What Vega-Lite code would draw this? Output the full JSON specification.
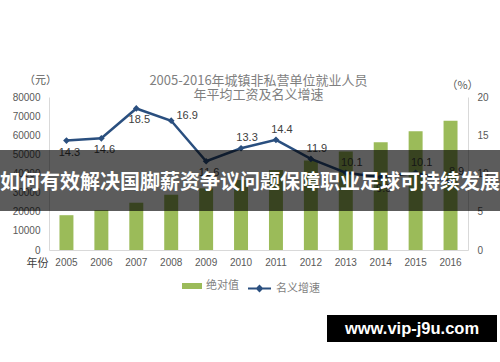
{
  "$schema": "https://vega.github.io/schema/vega-lite/v6.json",
  "width": 419,
  "height": 153,
  "autosize": {"type": "none"},
  "padding": {"left": 49, "top": 97, "right": 32, "bottom": 112},
  "background": "white",
  "config": {
    "view": {"stroke": null},
    "font": "Liberation Sans",
    "axis": {"grid": false, "ticks": false, "domainColor": "#d9d9d9", "labelColor": "#595959", "labelFontSize": 10, "titleFontWeight": "normal", "titleColor": "#595959", "titleFontSize": 11}
  },
  "title": {
    "text": ["2005-2016年城镇非私营单位就业人员", "年平均工资及名义增速"],
    "font": "Noto Sans CJK SC",
    "fontSize": 13,
    "fontWeight": "normal",
    "color": "#7f7f7f",
    "anchor": "middle",
    "lineHeight": 14,
    "offset": -28
  },
  "data": {
    "values": [
      {"year": "2005", "wage": 18200, "growth": 14.3},
      {"year": "2006", "wage": 20856, "growth": 14.6},
      {"year": "2007", "wage": 24721, "growth": 18.5},
      {"year": "2008", "wage": 28898, "growth": 16.9},
      {"year": "2009", "wage": 32244, "growth": 11.6},
      {"year": "2010", "wage": 36539, "growth": 13.3},
      {"year": "2011", "wage": 41799, "growth": 14.4},
      {"year": "2012", "wage": 46769, "growth": 11.9},
      {"year": "2013", "wage": 51483, "growth": 10.1},
      {"year": "2014", "wage": 56360, "growth": 9.5},
      {"year": "2015", "wage": 62029, "growth": 10.1},
      {"year": "2016", "wage": 67569, "growth": 8.9}
    ]
  },
  "encoding": {
    "x": {
      "field": "year", "type": "ordinal",
      "scale": {"paddingInner": 0.6, "paddingOuter": 0.3},
      "axis": {"labelAngle": 0, "labelPadding": 7, "title": "年份", "titleFont": "Noto Sans CJK SC", "titleAngle": 0, "titleX": -12, "titleY": 13, "titleAlign": "center", "titleBaseline": "middle", "titleColor": "#404040"}
    }
  },
  "layer": [
    {
      "mark": {"type": "bar"},
      "encoding": {
        "y": {
          "field": "wage", "type": "quantitative",
          "scale": {"domain": [0, 80000]},
          "axis": {"values": [0, 10000, 20000, 30000, 40000, 50000, 60000, 70000, 80000], "format": "d", "labelPadding": 9, "title": "（元）", "titleFont": "Noto Sans CJK SC", "titleAngle": 0, "titleX": -9, "titleY": -17, "titleAlign": "center", "titleBaseline": "middle"}
        },
        "fill": {
          "datum": "绝对值",
          "scale": {"range": ["#9bbb59"]},
          "legend": {"title": null, "orient": "none", "legendX": 133, "legendY": 179, "symbolType": "M-1,-0.3H1V0.3H-1Z", "symbolSize": 400, "symbolStrokeWidth": 0, "labelFont": "Noto Sans CJK SC", "labelFontSize": 11, "labelColor": "#7f7f7f"}
        }
      }
    },
    {
      "encoding": {
        "y": {
          "field": "growth", "type": "quantitative",
          "scale": {"domain": [0, 20]},
          "axis": {"orient": "right", "values": [0, 5, 10, 15, 20], "labelPadding": 9, "title": "（%）", "titleFont": "Noto Sans CJK SC", "titleAngle": 0, "titleX": -6, "titleY": -12, "titleAlign": "center", "titleBaseline": "middle"}
        }
      },
      "layer": [
        {
          "mark": {"type": "line", "strokeWidth": 2.5},
          "encoding": {
            "stroke": {
              "datum": "名义增速",
              "scale": {"range": ["#2a4f7f"]},
              "legend": {"title": null, "orient": "none", "legendX": 198, "legendY": 179, "symbolType": "M-1,0H1M0,-0.22L0.22,0L0,0.22L-0.22,0Z", "symbolSize": 529, "symbolStrokeWidth": 2, "labelFont": "Noto Sans CJK SC", "labelFontSize": 11, "labelColor": "#7f7f7f"}
            }
          }
        },
        {
          "mark": {"type": "point", "shape": "diamond", "filled": true, "color": "#2a4f7f", "size": 45, "opacity": 1}
        },
        {
          "transform": [{"filter": "indexof(['2005','2006','2007','2009','2014'], datum.year) >= 0"}],
          "mark": {"type": "text", "dy": 12, "dx": 3, "fontSize": 11, "color": "#404040"},
          "encoding": {"text": {"field": "growth", "type": "quantitative", "format": ".1f"}}
        },
        {
          "transform": [{"filter": "datum.year == '2008'"}],
          "mark": {"type": "text", "dy": -5, "dx": 16, "fontSize": 11, "color": "#404040"},
          "encoding": {"text": {"field": "growth", "type": "quantitative", "format": ".1f"}}
        },
        {
          "transform": [{"filter": "indexof(['2010','2011','2012','2013','2015','2016'], datum.year) >= 0"}],
          "mark": {"type": "text", "dy": -10, "dx": 6, "fontSize": 11, "color": "#404040"},
          "encoding": {"text": {"field": "growth", "type": "quantitative", "format": ".1f"}}
        }
      ]
    },
    {
      "data": {"values": [{"banner": "如何有效解决国脚薪资争议问题保障职业足球可持续发展"}]},
      "layer": [
        {
          "mark": {"type": "rect", "color": "black", "opacity": 0.64, "clip": false},
          "encoding": {"x": {"value": -49}, "x2": {"value": 451}, "y": {"value": 53}, "y2": {"value": 114}}
        },
        {
          "mark": {"type": "text", "color": "white", "font": "Noto Sans CJK SC", "fontWeight": "bold", "fontSize": 20, "align": "center", "baseline": "middle"},
          "encoding": {"x": {"value": 201}, "y": {"value": 86}, "text": {"field": "banner"}}
        }
      ]
    },
    {
      "data": {"values": [{"site": "www.vip-j9u.com"}]},
      "layer": [
        {
          "mark": {"type": "rect", "color": "black", "opacity": 1},
          "encoding": {"x": {"value": 278}, "x2": {"value": 448}, "y": {"value": 218}, "y2": {"value": 245}}
        },
        {
          "mark": {"type": "text", "color": "white", "font": "Liberation Sans", "fontWeight": "bold", "fontSize": 16.5, "align": "center", "baseline": "middle"},
          "encoding": {"x": {"value": 363}, "y": {"value": 232}, "text": {"field": "site"}}
        }
      ]
    }
  ],
  "resolve": {"scale": {"y": "independent"}}
}
